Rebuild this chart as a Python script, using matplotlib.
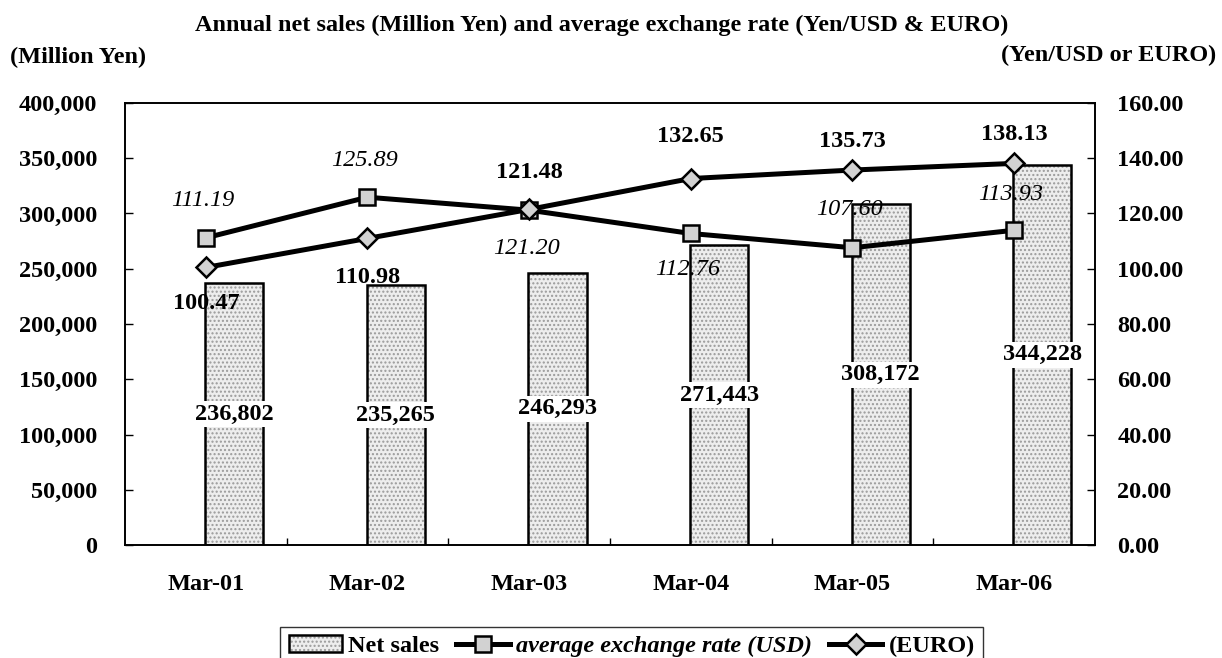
import numpy as np
import matplotlib
matplotlib.use('Agg')
import matplotlib.pyplot as plt
from matplotlib.ticker import FuncFormatter, FixedLocator

plt.rcParams['font.family'] = ['Liberation Serif', 'DejaVu Serif']
plt.rcParams['font.weight'] = 'bold'

# data
periods   = ['Mar-01', 'Mar-02', 'Mar-03', 'Mar-04', 'Mar-05', 'Mar-06']
net_sales = [236802, 235265, 246293, 271443, 308172, 344228]
usd_rate  = [111.19, 125.89, 121.20, 112.76, 107.60, 113.93]
euro_rate = [100.47, 110.98, 121.48, 132.65, 135.73, 138.13]

# label offsets in pixels (up is positive)
usd_dy  = [37, 37, -38, -36, 38, 36]
euro_dy = [-36, -39, 37, 42, 29, 29]

fs = 17.5
x = np.arange(len(periods))

fig = plt.figure(figsize=(12.22, 6.58), dpi=100)
ax1 = fig.add_axes([0.1023, 0.1717, 0.7937, 0.6718])
ax2 = ax1.twinx()

# bars sit a little right of the category centre
bx = x + 0.175
bw = 0.36
fill = ax1.bar(bx, net_sales, bw, color='#ededed', edgecolor='#9a9a9a',
               hatch='....', linewidth=0, zorder=2)
bars = ax1.bar(bx, net_sales, bw, facecolor='none', edgecolor='black',
               linewidth=1.8, zorder=3)
for xi, v in zip(bx, net_sales):
    ax1.text(xi, v / 2, f'{v:,}', ha='center', va='center', fontsize=fs,
             fontweight='bold', zorder=4,
             bbox=dict(facecolor='white', edgecolor='none', pad=2))

ax1.set_xlim(-0.5, len(periods) - 0.5)
ax1.set_ylim(0, 400000)
ax1.set_yticks(np.arange(0, 400001, 50000))
ax1.yaxis.set_major_formatter(FuncFormatter(lambda v, p: f'{int(v):,}'))
ax1.set_xticks(x)
ax1.set_xticklabels(periods)
ax1.xaxis.set_minor_locator(FixedLocator(x[:-1] + 0.5))
ax1.tick_params(axis='x', which='major', length=0, pad=21, labelsize=fs)
ax1.tick_params(axis='x', which='minor', direction='in', length=5, width=1)
ax1.tick_params(axis='y', direction='in', length=6, width=1, pad=20,
                labelsize=fs)

# exchange rates
l1, = ax2.plot(x, usd_rate, color='black', lw=3.6, marker='s', ms=12,
               mfc='#d2d2d2', mec='black', mew=1.8, zorder=5)
l2, = ax2.plot(x, euro_rate, color='black', lw=3.6, marker='D', ms=10,
               mfc='#d2d2d2', mec='black', mew=1.8, zorder=5)
for xi, v, dy in zip(x, usd_rate, usd_dy):
    ax2.annotate(f'{v:.2f}', (xi, v), xytext=(-3, dy), textcoords='offset pixels',
                 ha='center', va='center', fontsize=fs, fontweight='normal',
                 fontstyle='italic', zorder=6)
for xi, v, dy in zip(x, euro_rate, euro_dy):
    ax2.annotate(f'{v:.2f}', (xi, v), xytext=(0, dy), textcoords='offset pixels',
                 ha='center', va='center', fontsize=fs, fontweight='bold',
                 zorder=6)

ax2.set_ylim(0, 160)
ax2.set_yticks(np.arange(0, 161, 20))
ax2.yaxis.set_major_formatter(FuncFormatter(lambda v, p: f'{v:.2f}'))
ax2.tick_params(axis='y', direction='in', length=6, width=1, pad=16,
                labelsize=fs)

for ax in (ax1, ax2):
    for s in ax.spines.values():
        s.set_linewidth(1.2)
        s.set_color('black')

fig.text(0.492, 0.962, 'Annual net sales (Million Yen) and average exchange rate (Yen/USD & EURO)',
         ha='center', va='center', fontsize=fs, fontweight='bold')
fig.text(0.008, 0.913, '(Million Yen)', ha='left', va='center', fontsize=fs,
         fontweight='bold')
fig.text(0.995, 0.916, '(Yen/USD or EURO)', ha='right', va='center',
         fontsize=fs, fontweight='bold')

leg = fig.legend([(fill, bars), l1, l2],
                 ['Net sales', 'average exchange rate (USD)', '(EURO)'],
                 loc='lower center', bbox_to_anchor=(0.517, -0.012), ncol=3,
                 frameon=True, fancybox=False, edgecolor='black',
                 fontsize=fs, handlelength=2.2, handletextpad=0.25,
                 columnspacing=0.7, borderpad=0.35, borderaxespad=0)
leg.get_frame().set_linewidth(1.0)
leg.get_texts()[1].set_fontstyle('italic')

fig.savefig('out.png', dpi=100, facecolor='white')
